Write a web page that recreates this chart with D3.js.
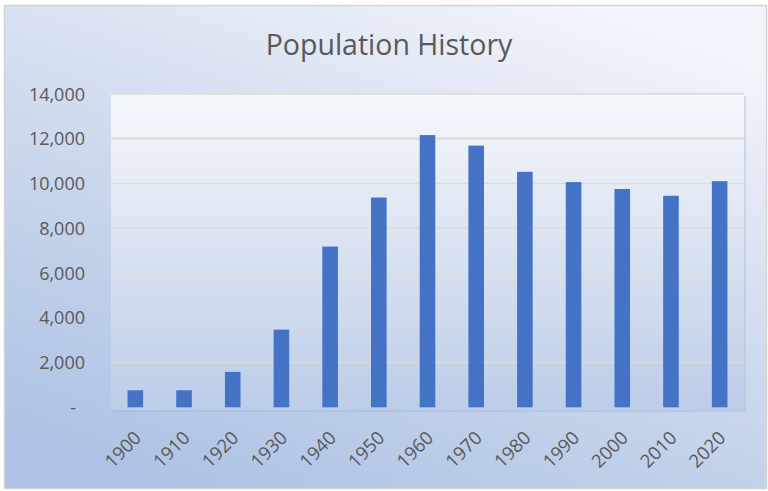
<!DOCTYPE html>
<html>
<head>
<meta charset="utf-8">
<script src="https://cdn.jsdelivr.net/npm/d3@7"></script>
<style>
  html, body { margin: 0; padding: 0; background: #ffffff; }
  svg { display: block; }
  text { font-family: "Open Sans", "Noto Sans", sans-serif; fill: #595959; }
</style>
</head>
<body>
<svg id="chart" width="768" height="491"></svg>
<script>
// Census years and counts
const years = ["1900","1910","1920","1930","1940","1950","1960","1970","1980","1990","2000","2010","2020"];
const population = [760, 760, 1580, 3470, 7180, 9370, 12160, 11690, 10520, 10060, 9750, 9450, 10100];
const yTicks = [0, 2000, 4000, 6000, 8000, 10000, 12000, 14000];
const title = "Population History";

const W = 768, H = 491;
const plot = { left: 111, right: 744, top: 93.9, bottom: 407.3, rectBottom: 410 };

const svg = d3.select("#chart");
const defs = svg.append("defs");

// chart area fill: light at the top right, deeper blue toward the lower left
const gOuter = defs.append("linearGradient").attr("id", "outerFill")
  .attr("x1", "0.75").attr("y1", "0").attr("x2", "0.2").attr("y2", "1");
gOuter.append("stop").attr("offset", "0").attr("stop-color", "#f1f4fa");
gOuter.append("stop").attr("offset", "0.45").attr("stop-color", "#d0dbee");
gOuter.append("stop").attr("offset", "1").attr("stop-color", "#adc2e4");

// plot area fill: near white at the top to soft blue at the bottom
const gPlot = defs.append("linearGradient").attr("id", "plotFill")
  .attr("x1", "0").attr("y1", "0").attr("x2", "0").attr("y2", "1");
gPlot.append("stop").attr("offset", "0").attr("stop-color", "#f6f8fc");
gPlot.append("stop").attr("offset", "0.5").attr("stop-color", "#d9e2f1");
gPlot.append("stop").attr("offset", "1").attr("stop-color", "#bccde9");

// chart frame
svg.append("rect")
  .attr("x", 4.5).attr("y", 5.5).attr("width", 762).attr("height", 483)
  .attr("fill", "url(#outerFill)")
  .attr("stroke", "#d4d4d4").attr("stroke-width", 1.5);

// plot area with a faint drop shadow
svg.append("rect")
  .attr("x", plot.left + 2).attr("y", plot.top + 2)
  .attr("width", plot.right - plot.left).attr("height", plot.rectBottom - plot.top)
  .attr("fill", "#9fb3d6").attr("opacity", 0.35);
svg.append("rect")
  .attr("x", plot.left).attr("y", plot.top)
  .attr("width", plot.right - plot.left).attr("height", plot.rectBottom - plot.top)
  .attr("fill", "url(#plotFill)");

const x = d3.scaleBand().domain(years).range([plot.left, plot.right])
  .paddingInner(0.68).paddingOuter(0.34);
const y = d3.scaleLinear().domain([0, 14000]).range([plot.bottom, plot.top]);

// gridlines
svg.append("g")
  .selectAll("line")
  .data(yTicks.filter(d => d > 0))
  .join("line")
  .attr("x1", plot.left).attr("x2", plot.right)
  .attr("y1", d => y(d)).attr("y2", d => y(d))
  .attr("stroke", "#dcdcd8").attr("stroke-width", 1.6);

// y axis labels
const fmt = d => d === 0 ? "-" : d3.format(",")(d);
const yAxis = d3.axisLeft(y).tickValues(yTicks).tickFormat(fmt).tickSize(0).tickPadding(0);
const yG = svg.append("g").attr("transform", `translate(85,0)`).call(yAxis);
yG.select(".domain").remove();
yG.selectAll("text")
  .attr("font-family", "\"Open Sans\", sans-serif")
  .attr("font-size", 18).attr("fill", "#595959")
  .attr("dy", "0.34em")
  .attr("x", d => d === 0 ? -9 : 0);

// bars
svg.append("g")
  .selectAll("rect")
  .data(years.map((yr, i) => ({ yr, v: population[i] })))
  .join("rect")
  .attr("x", d => x(d.yr))
  .attr("width", x.bandwidth())
  .attr("y", d => y(d.v))
  .attr("height", d => y(0) - y(d.v))
  .attr("fill", "#4472c4");

// x axis labels, rotated
const xAxis = d3.axisBottom(x).tickSize(0).tickPadding(0);
const xG = svg.append("g").attr("transform", `translate(0,${plot.rectBottom})`).call(xAxis);
xG.select(".domain").remove();
xG.selectAll("text")
  .attr("font-family", "\"Open Sans\", sans-serif")
  .attr("font-size", 18.5).attr("fill", "#595959")
  .attr("text-anchor", "end")
  .attr("dy", "0")
  .attr("transform", "translate(7,29) rotate(-45)");

// title
svg.append("text")
  .attr("x", 389).attr("y", 55)
  .attr("text-anchor", "middle")
  .attr("font-size", 28.5)
  .attr("fill", "#595959")
  .text(title);
</script>
</body>
</html>
